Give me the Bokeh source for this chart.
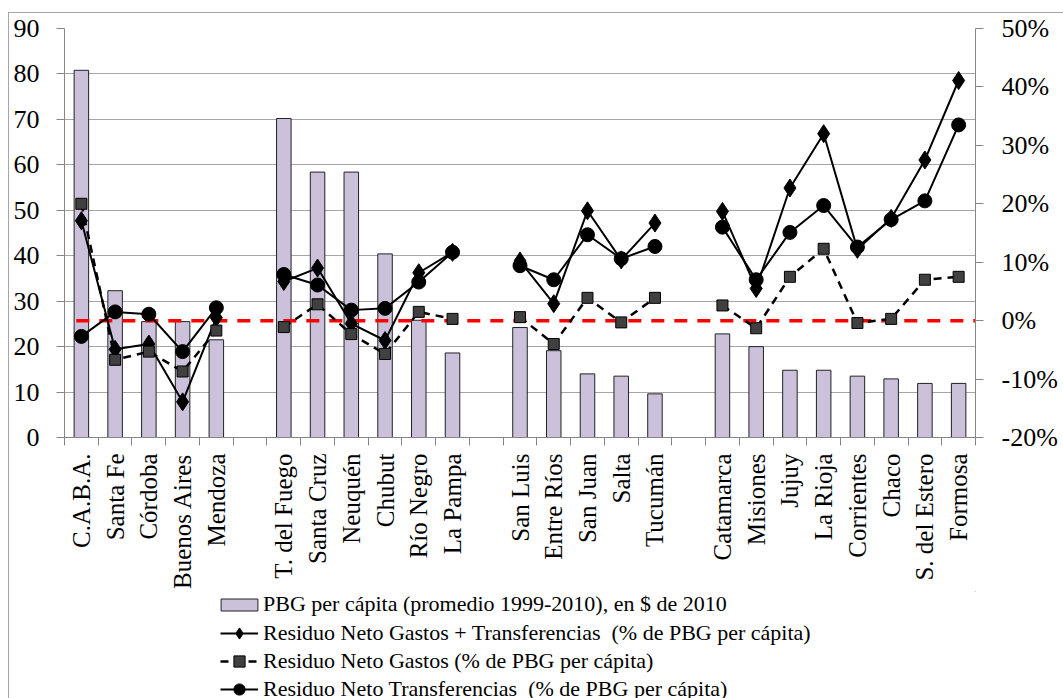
import math
from bokeh.plotting import figure
from bokeh.layouts import column
from bokeh.models import (Range1d, LinearAxis, FixedTicker, Legend, LegendItem,
                          ColumnDataSource)
from bokeh.embed import file_html
from bokeh.resources import INLINE

# ---------------- data ----------------
group1 = ["C.A.B.A.", "Santa Fe", "Córdoba", "Buenos Aires", "Mendoza"]
group2 = ["T. del Fuego", "Santa Cruz", "Neuquén", "Chubut", "Río Negro", "La Pampa"]
group3 = ["San Luis", "Entre Ríos", "San Juan", "Salta", "Tucumán"]
group4 = ["Catamarca", "Misiones", "Jujuy", "La Rioja", "Corrientes", "Chaco",
          "S. del Estero", "Formosa"]
groups = [group1, group2, group3, group4]

# PBG per cápita (left axis)
pbg = [80.8, 32.3, 25.5, 25.5, 21.5,
       70.2, 58.4, 58.4, 40.4, 25.8, 18.6,
       24.2, 19.1, 14.0, 13.5, 9.6,
       22.8, 20.0, 14.8, 14.8, 13.5, 12.9, 11.9, 11.9]
# Residuo Neto Gastos + Transferencias (% right axis)
gastos_transf = [17.1, -4.9, -4.0, -13.9, 0.5,
                 6.7, 9.0, -0.5, -3.4, 8.2, 11.7,
                 10.2, 2.9, 18.8, 10.4, 16.7,
                 18.7, 5.5, 22.7, 32.0, 12.2, 17.5, 27.5, 41.1]
# Residuo Neto Gastos
gastos = [20.0, -6.7, -5.3, -8.7, -1.7,
          -1.1, 2.8, -2.3, -5.7, 1.5, 0.3,
          0.6, -4.0, 3.9, -0.3, 3.9,
          2.6, -1.3, 7.5, 12.3, -0.4, 0.3, 7.0, 7.5]
# Residuo Neto Transferencias
transf = [-2.7, 1.5, 1.1, -5.3, 2.2,
          7.9, 6.1, 1.8, 2.1, 6.6, 11.7,
          9.4, 7.0, 14.7, 10.6, 12.7,
          16.0, 7.0, 15.1, 19.7, 12.6, 17.3, 20.5, 33.5]

left_ticks = list(range(0, 91, 10))
right_ticks = list(range(-20, 51, 10))

legend_labels = ["PBG per cápita (promedio 1999-2010), en $ de 2010",
                 "Residuo Neto Gastos + Transferencias  (% de PBG per cápita)",
                 "Residuo Neto Gastos (% de PBG per cápita)",
                 "Residuo Neto Transferencias  (% de PBG per cápita)"]

# ---------------- slot layout (gap slot between groups) ----------------
names, centers = [], []
pos = 0
for gi, g in enumerate(groups):
    for n in g:
        names.append(n)
        centers.append(pos + 0.5)
        pos += 1
    if gi < len(groups) - 1:
        pos += 1
n_slots = pos

def full(vals):
    arr = [float("nan")] * n_slots
    for c, v in zip(centers, vals):
        arr[int(c)] = v
    return arr

slot_x = [i + 0.5 for i in range(n_slots)]
src = ColumnDataSource(dict(x=slot_x, gt=full(gastos_transf), g=full(gastos), t=full(transf)))
bar_src = ColumnDataSource(dict(x=centers, top=pbg))

FONT = "Liberation Serif"
BAR_STYLE = dict(fill_color="#CCC1DA", line_color="#222222", line_width=1)
L1 = dict(line_color="black", line_width=2)
M1 = dict(marker="diamond", size=18, fill_color="black", line_color="black")
L2 = dict(line_color="black", line_width=2.5, line_dash="8 6")
M2 = dict(marker="square", size=11, fill_color="#404040", line_color="black", line_width=1)
L3 = dict(line_color="black", line_width=2)
M3 = dict(marker="circle", size=14, fill_color="black", line_color="black")

W = 1054
H_MAIN = 578
H_LEG = 107

p = figure(width=W, height=H_MAIN, output_backend="svg", toolbar_location=None,
           x_range=Range1d(0, n_slots), y_range=Range1d(0, 90),
           min_border_left=55, min_border_right=88, min_border_top=15, min_border_bottom=153)
p.extra_y_ranges = {"pct": Range1d(-20, 50)}
p.outline_line_color = None
p.background_fill_color = "white"
p.border_fill_color = "white"

# grid
p.xgrid.visible = False
p.ygrid.ticker = FixedTicker(ticks=left_ticks)
p.ygrid.grid_line_color = "#a6a6a6"
p.ygrid.grid_line_width = 1

# left axis
ya = p.yaxis[0]
ya.ticker = FixedTicker(ticks=left_ticks)
ya.axis_line_color = "#868686"
ya.major_tick_line_color = "#868686"
ya.major_tick_out = 8
ya.major_tick_in = 0
ya.minor_tick_line_color = None
ya.major_label_text_font = FONT
ya.major_label_text_font_size = "26px"
ya.major_label_text_color = "black"
ya.major_label_standoff = 17

# right axis
ra = LinearAxis(y_range_name="pct", ticker=FixedTicker(ticks=right_ticks),
                major_label_overrides={v: f"{v}%" for v in right_ticks})
ra.axis_line_color = "#868686"
ra.major_tick_line_color = "#868686"
ra.major_tick_out = 8
ra.major_tick_in = 0
ra.minor_tick_line_color = None
ra.major_label_text_font = FONT
ra.major_label_text_font_size = "26px"
ra.major_label_text_color = "black"
ra.major_label_standoff = 18
p.add_layout(ra, "right")

# x axis: labels at centres, tick marks at slot boundaries (minor ticks)
xa = p.xaxis[0]
xa.ticker = FixedTicker(ticks=centers, minor_ticks=list(range(n_slots + 1)))
xa.major_label_overrides = {c: n for c, n in zip(centers, names)}
xa.major_label_orientation = math.pi / 2
xa.major_tick_out = 0
xa.major_tick_in = 0
xa.minor_tick_out = 8
xa.minor_tick_in = 0
xa.minor_tick_line_color = "#868686"
xa.axis_line_color = "#868686"
xa.major_label_text_font = FONT
xa.major_label_text_font_size = "25px"
xa.major_label_text_color = "black"
xa.major_label_standoff = 8

# bars
p.vbar(x="x", top="top", bottom=0, width=0.43, source=bar_src, **BAR_STYLE)

# red zero reference line
p.line(x=[0.35, n_slots], y=[0, 0], y_range_name="pct", line_color="#FF0000",
       line_width=3.5, line_dash="13 10")

# series
p.line("x", "gt", source=src, y_range_name="pct", **L1)
p.scatter("x", "gt", source=src, y_range_name="pct", **M1)
p.line("x", "g", source=src, y_range_name="pct", **L2)
p.scatter("x", "g", source=src, y_range_name="pct", **M2)
p.line("x", "t", source=src, y_range_name="pct", **L3)
p.scatter("x", "t", source=src, y_range_name="pct", **M3)

# ---------------- legend (separate strip below) ----------------
q = figure(width=W, height=H_LEG, output_backend="svg", toolbar_location=None,
           x_range=Range1d(0, 1), y_range=Range1d(0, 1),
           min_border_left=0, min_border_right=0, min_border_top=0, min_border_bottom=0)
q.axis.visible = False
q.grid.visible = False
q.outline_line_color = None
q.border_fill_color = "white"

# sample glyphs for the legend keys (placed outside the visible range)
off = dict(x=[5, 6], y=[5, 6])
rb = q.vbar(x=[5], top=[6], bottom=5, width=0.1, **BAR_STYLE)
r1l = q.line(**off, **L1)
r1m = q.scatter(**off, **M1)
r2l = q.line(**off, **L2)
r2m = q.scatter(**off, **M2)
r3l = q.line(**off, **L3)
r3m = q.scatter(**off, **M3)

common = dict(orientation="vertical", label_text_font=FONT, label_text_font_size="22px",
              label_text_color="black", padding=0, margin=0, spacing=0,
              border_line_color=None, background_fill_alpha=0)

legend_a = Legend(items=[LegendItem(label=legend_labels[0], renderers=[rb])],
                  location=(152, 81), glyph_width=46, glyph_height=15,
                  label_standoff=1, **common)
legend_b = Legend(items=[LegendItem(label=legend_labels[1], renderers=[r1l, r1m]),
                         LegendItem(label=legend_labels[2], renderers=[r2l, r2m]),
                         LegendItem(label=legend_labels[3], renderers=[r3l, r3m])],
                  location=(156, -5), glyph_width=38, glyph_height=28,
                  label_standoff=5, **common)
q.add_layout(legend_a)
q.add_layout(legend_b)

layout = column(p, q, spacing=0)
layout.styles = {"margin-left": "8px", "margin-top": "12px",
                 "border-left": "1px solid #a6a6a6", "border-top": "1px solid #a6a6a6"}

open("out.html", "w").write(file_html(layout, INLINE))
